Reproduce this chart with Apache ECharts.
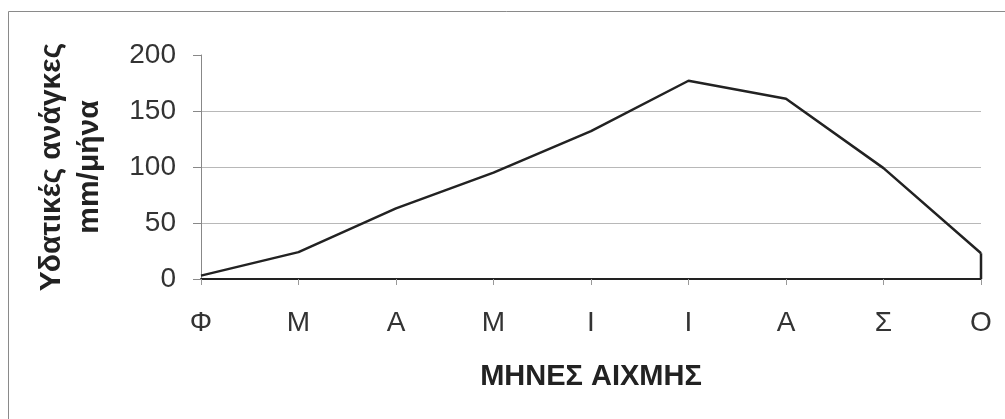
<!DOCTYPE html>
<html>
<head>
<meta charset="utf-8">
<script src="https://cdn.jsdelivr.net/npm/echarts@6/dist/echarts.min.js"></script>
<style>
  html, body { margin: 0; padding: 0; background: #fff; }
  #chart { width: 1005px; height: 419px; }
</style>
</head>
<body>
<div id="chart"></div>
<script>
// μήνες αιχμής
const months = ['Φ', 'Μ', 'Α', 'Μ', 'Ι', 'Ι', 'Α', 'Σ', 'Ο']
// υδατικές ανάγκες mm/μήνα
const needs = [3, 24, 63, 95, 132, 177, 161, 99, 23]
// κατακόρυφο κλείσιμο στο τέλος
const closing = [23, 0]
const yTicks = [0, 50, 100, 150, 200]

const chart = echarts.init(document.getElementById('chart'))
const lastIdx = months.length - 1

const option = {
  animation: false,
  textStyle: { fontFamily: 'Liberation Sans, Arial, sans-serif' },
  grid: { left: 201, right: 24, top: 55, bottom: 140 },
  graphic: [{
    type: 'polyline',
    shape: { points: [[8.5, 419], [8.5, 11.5], [1005, 11.5]] },
    style: { stroke: '#8a8a8a', lineWidth: 1, fill: null }
  }],
  xAxis: {
    type: 'category',
    data: months,
    boundaryGap: false,
    name: 'ΜΗΝΕΣ ΑΙΧΜΗΣ',
    nameLocation: 'middle',
    nameGap: 83,
    nameTextStyle: { fontSize: 29, fontWeight: 'bold', color: '#222' },
    axisLine: { lineStyle: { color: '#222', width: 2 } },
    axisTick: { length: 6, lineStyle: { color: '#999' } },
    axisLabel: { fontSize: 28, color: '#333', margin: 30 }
  },
  yAxis: {
    type: 'value',
    min: yTicks[0],
    max: yTicks[yTicks.length - 1],
    interval: 50,
    name: 'Υδατικές ανάγκες\nmm/μήνα',
    nameLocation: 'middle',
    nameRotate: 90,
    nameGap: 92,
    nameTextStyle: { fontSize: 30, fontWeight: 'bold', color: '#222', lineHeight: 38 },
    axisLine: { show: true, lineStyle: { color: '#888', width: 1 } },
    axisTick: { show: true, length: 8, lineStyle: { color: '#888' } },
    axisLabel: { fontSize: 28, color: '#333', margin: 25 },
    splitLine: {
      show: true,
      lineStyle: { color: ['#222', '#b8b8b8', '#b8b8b8', '#b8b8b8', 'rgba(0,0,0,0)'], width: 1 }
    }
  },
  series: [{
    type: 'line',
    data: needs,
    symbol: 'none',
    lineStyle: { color: '#222', width: 2.5 }
  }, {
    type: 'line',
    data: closing.map(v => [lastIdx, v]),
    symbol: 'none',
    lineStyle: { color: '#222', width: 2.5 }
  }]
}

chart.setOption(option)
window.addEventListener('resize', () => chart.resize())
</script>
</body>
</html>
